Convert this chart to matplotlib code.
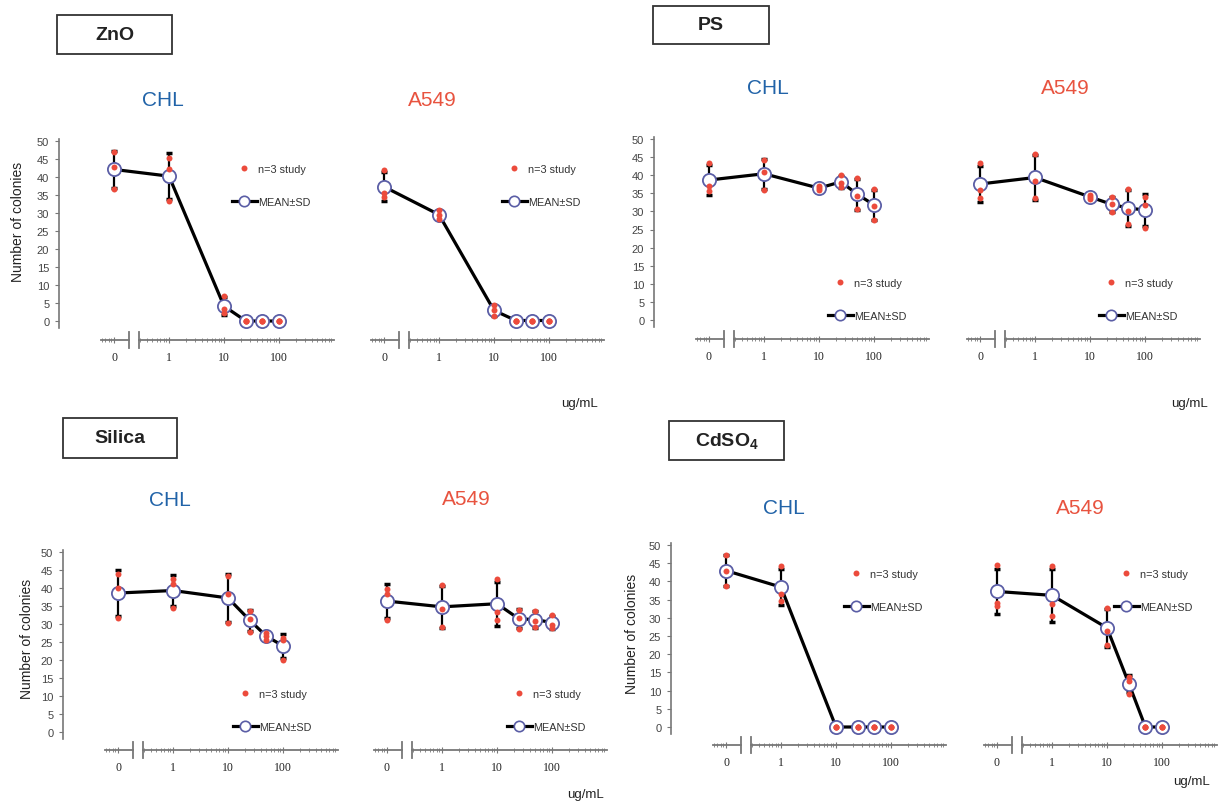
import numpy as np
import matplotlib
matplotlib.use("Agg")
import matplotlib.pyplot as plt
from matplotlib.lines import Line2D
from matplotlib.patches import Rectangle
from matplotlib.ticker import FixedLocator, NullLocator

plt.rcParams["font.family"] = ["Liberation Sans", "DejaVu Sans"]
plt.rcParams["mathtext.fontset"] = "custom"
plt.rcParams["mathtext.rm"] = "Liberation Sans"
plt.rcParams["mathtext.bf"] = "Liberation Sans:bold"

W, H = 1225, 804

# ---------------------------------------------------------------- data
doses = [0, 1, 10, 25, 50, 100]          # ug/mL
xtick_doses = [0, 1, 10, 100]
xtick_labels = ["0", "1", "10", "100"]
yticks = list(range(0, 55, 5))

# colony counts, three replicates per dose (n=3 study)
zno_chl = [[46.9, 42.7, 36.7], [45.4, 42.1, 33.2], [6.9, 3.3, 2.2],
           [0, 0, 0], [0, 0, 0], [0, 0, 0]]
zno_a549 = [[41.8, 35.5, 34.2], [30.6, 29.4, 28.2], [4.4, 2.8, 1.2],
            [0, 0, 0], [0, 0, 0], [0, 0, 0]]
ps_chl = [[43.4, 37.1, 35.5], [44.2, 41.0, 36.0], [37.1, 36.4, 35.8],
          [40.0, 37.8, 36.7], [39.2, 34.2, 30.7], [36.1, 31.6, 27.7]]
ps_a549 = [[43.3, 35.8, 33.6], [45.9, 38.5, 33.7], [34.6, 33.9, 33.5],
           [33.9, 32.1, 29.8], [36.2, 30.0, 26.6], [33.9, 31.8, 25.4]]
silica_chl = [[44.0, 40.1, 31.7], [42.4, 41.1, 34.4], [43.2, 38.3, 30.2],
              [33.7, 31.4, 27.9], [27.4, 26.8, 25.6], [26.1, 25.6, 20.1]]
silica_a549 = [[39.7, 38.3, 31.1], [40.9, 34.3, 29.1], [42.6, 33.2, 31.1],
               [33.9, 31.8, 28.6], [33.7, 30.8, 29.2], [32.5, 29.8, 28.9]]
cdso4_chl = [[47.2, 42.9, 38.8], [44.1, 36.5, 34.7], [0, 0, 0],
             [0, 0, 0], [0, 0, 0], [0, 0, 0]]
cdso4_a549 = [[44.5, 34.0, 33.2], [44.3, 33.8, 30.4], [32.8, 26.4, 22.5],
              [13.8, 12.7, 9.2], [0, 0, 0], [0, 0, 0]]

RED = "#ec4b3c"
CIRC = "#5b5ea6"
BLUE_T = "#2163a8"
RED_T = "#e8533f"
AXC = "#777777"
DEC = 55.0   # px per decade


def fx(px):
    return px / W


def fy(py):
    return 1 - py / H


def dose_pos(d):
    # zero dose sits one decade left of 1
    return d if d > 0 else 0.1


fig = plt.figure(figsize=(W / 100, H / 100), dpi=100)


def panel(counts, x0, y0, ppu, xaxis_y, show_y, leg):
    left = x0 - DEC
    width = 5 * DEC
    ax = fig.add_axes([fx(left), fy(y0 + 3 * ppu), fx(width), 55 * ppu / H])
    ax.set_xscale("log")
    ax.set_xlim(0.01, 1000)
    ax.set_ylim(-3, 52)
    ax.patch.set_alpha(0)
    ax.xaxis.set_major_locator(NullLocator())
    ax.xaxis.set_minor_locator(NullLocator())
    for s in ["top", "right", "bottom"]:
        ax.spines[s].set_visible(False)
    if show_y:
        ax.spines["left"].set_color(AXC)
        ax.spines["left"].set_linewidth(1.2)
        ax.spines["left"].set_bounds(-2, 50.5)
        ax.set_yticks(yticks)
        ax.tick_params(axis="y", length=3, width=0.8, color=AXC,
                       labelsize=8, labelcolor="#444444", pad=4)
    else:
        ax.spines["left"].set_visible(False)
        ax.set_yticks([])

    arr = np.array(counts, dtype=float)
    mean = arr.mean(axis=1)
    sd = arr.std(axis=1, ddof=1)
    xp = np.array([dose_pos(d) for d in doses])

    ax.errorbar(xp, mean, yerr=sd, fmt="none", ecolor="black",
                elinewidth=1.6, capsize=2.5, capthick=2.5, zorder=2)
    ax.plot(xp, mean, color="black", lw=2.3, zorder=2)
    ax.plot(xp, mean, ls="none", marker="o", ms=9.5, mfc="white",
            mec=CIRC, mew=1.3, zorder=3)
    ax.plot(np.repeat(xp, arr.shape[1]), arr.ravel(), ls="none",
            marker="o", ms=4.3, color=RED, mec="none", zorder=4)

    handles = [
        Line2D([], [], ls="none", marker="o", ms=4.3, color=RED, mec="none"),
        Line2D([], [], color="black", lw=2.3, marker="o", ms=7.5,
               mfc="white", mec=CIRC, mew=1.2),
    ]
    lx, ly = leg
    ax.legend(handles, ["n=3 study", "MEAN\u00b1SD"], loc="upper left",
              bbox_to_anchor=(fx(lx), fy(ly - 4)),
              bbox_transform=fig.transFigure, frameon=False, fontsize=7.8,
              handlelength=2.3, handletextpad=0.12, labelspacing=2.1,
              borderpad=0, borderaxespad=0, labelcolor="#333333")

    # broken x axis drawn underneath
    axx = fig.add_axes([fx(left), fy(xaxis_y + 8), fx(width), 16 / H])
    axx.set_xscale("log")
    axx.set_xlim(0.01, 1000)
    axx.set_ylim(-1, 1)
    axx.patch.set_alpha(0)
    for s in axx.spines.values():
        s.set_visible(False)
    axx.spines["bottom"].set_position(("data", 0))
    axx.set_yticks([])
    xs = 0.1 * 10 ** (-13 / DEC)
    b1 = 0.1 * 10 ** (15 / DEC)
    b2 = 0.1 * 10 ** (25 / DEC)
    xe = 1000
    kw = dict(color=AXC, lw=1.3, clip_on=False)
    axx.plot([xs, b1], [0, 0], **kw)
    axx.plot([b2, xe], [0, 0], **kw)
    axx.plot([b1, b1], [-0.95, 0.95], **kw)
    axx.plot([b2, b2], [-0.95, 0.95], **kw)
    axx.set_xticks([dose_pos(d) for d in xtick_doses], xtick_labels,
                   fontfamily="Liberation Serif", fontsize=8.5)
    minor = [m * 10.0 ** e for e in range(-2, 3) for m in range(2, 10)]
    minor = [v for v in minor if (xs <= v <= b1) or (b2 <= v <= xe)]
    axx.xaxis.set_minor_locator(FixedLocator(minor))
    axx.tick_params(axis="x", which="major", direction="inout", length=4,
                    width=0.8, color=AXC, pad=6, labelcolor="#222222")
    axx.tick_params(axis="x", which="minor", direction="inout", length=2.5,
                    width=0.6, color=AXC)
    return ax


# (counts, x of dose 0, y of value 0, px per unit, x-axis y, y axis, legend)
panel(zno_chl, 114, 322, 3.6, 341, True, (232, 169))
panel(zno_a549, 384, 321.5, 3.6, 341, False, (502, 169))
panel(ps_chl, 709, 321, 3.62, 340, True, (828, 283))
panel(ps_a549, 980, 321, 3.62, 340, False, (1099, 283))
panel(silica_chl, 118, 733, 3.6, 751, True, (233, 694))
panel(silica_a549, 387, 733, 3.6, 751, False, (507, 694))
panel(cdso4_chl, 726, 728, 3.64, 746, True, (844, 574))
panel(cdso4_a549, 997, 728, 3.64, 746, False, (1114, 574))

# material boxes
boxes = [("ZnO", 57, 16, 172, 55), ("PS", 653, 7, 769, 45),
         ("Silica", 63, 419, 177, 459),
         (r"CdSO$_\mathbf{4}$", 669, 422, 784, 461)]
for label, x1, y1, x2, y2 in boxes:
    fig.add_artist(Rectangle((fx(x1), fy(y2)), fx(x2 - x1), (y2 - y1) / H,
                             transform=fig.transFigure, fill=False,
                             edgecolor="#333333", lw=1.3))
    fig.text(fx((x1 + x2) / 2), fy((y1 + y2) / 2), label, ha="center",
             va="center", fontsize=14, fontweight="bold", color="#222222")

# cell line titles
cells = [("CHL", BLUE_T, 163, 100), ("A549", RED_T, 432, 100),
         ("CHL", BLUE_T, 768, 88), ("A549", RED_T, 1065, 88),
         ("CHL", BLUE_T, 170, 501), ("A549", RED_T, 466, 500),
         ("CHL", BLUE_T, 784, 508), ("A549", RED_T, 1080, 508)]
for label, col, x, y in cells:
    fig.text(fx(x), fy(y), label, ha="center", va="center", fontsize=15,
             color=col)

for x, y in [(18, 222), (27, 639), (632, 634)]:
    fig.text(fx(x), fy(y), "Number of colonies", rotation=90, ha="center",
             va="center", fontsize=10, color="#222222")

for x, y in [(580, 404), (1190, 404), (586, 795), (1192, 782)]:
    fig.text(fx(x), fy(y), "ug/mL", ha="center", va="center", fontsize=9.5,
             color="#222222")

fig.savefig("out.png", dpi=100)
